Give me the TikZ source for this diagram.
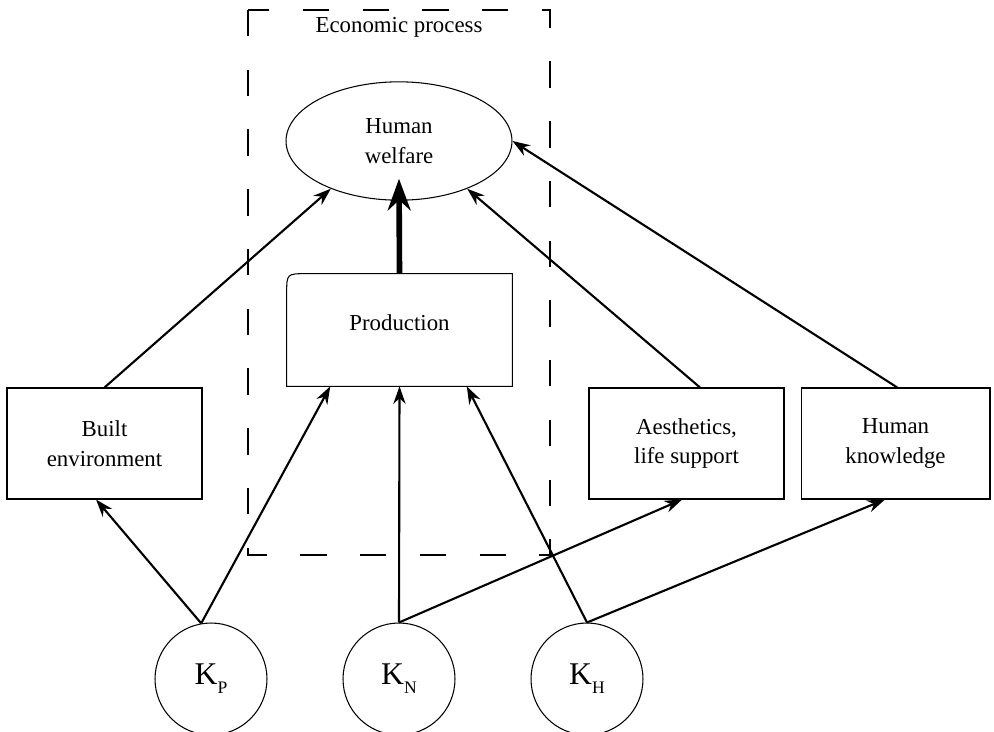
\documentclass[tikz,border=0pt]{standalone}
\usepackage{fontspec}
\setmainfont{Liberation Serif}
\usetikzlibrary{arrows.meta,shapes.geometric}
\begin{document}
\begin{tikzpicture}[x=0.02cm, y=-0.02cm, >={Stealth[length=10pt,width=7pt]},
  txt/.style={font=\fontsize{13}{17}\selectfont, align=center},
  box/.style={txt, draw, line width=0.6pt, minimum width=3.9cm, minimum height=2.22cm},
  stock/.style={draw, circle, line width=0.6pt, minimum size=2.24cm, inner sep=0pt, font=\fontsize{18}{20}\selectfont},
  link/.style={->, line width=1.2pt}]
\useasboundingbox (0,0) rectangle (994,731);
% economic process frame
\draw[line width=0.6pt, dash pattern=on 15pt off 19pt] (248,10) rectangle (550,555);
\node[txt] (econ) at (399,27) {Economic process};
% nodes
\node[txt, draw, ellipse, line width=0.6pt, minimum width=4.52cm, minimum height=2.24cm, inner xsep=0pt, inner ysep=11pt] (welfare) at (399,141) {Human\\welfare};
\node[txt, minimum width=4.5cm, minimum height=2.24cm, inner sep=0pt] (prod) at (399.5,330) {\raisebox{9pt}{Production}};
\draw[line width=0.6pt] (prod.south west) -- ([shift={(0,20)}]prod.north west) .. controls (prod.north west) .. ([shift={(20,0)}]prod.north west) -- (prod.north east) -- (prod.south east) -- cycle;
\node[box] (built) at (104.5,443.5) {Built\\environment};
\node[box] (aesth) at (686.5,443.5) {Aesthetics,\\life support};
\node[box, minimum width=3.78cm] (know) at (895.5,443.5) {Human\\knowledge};
\node[stock] (kp) at (211,679) {K\raisebox{-5pt}{\fontsize{10}{10}\selectfont P}};
\node[stock] (kn) at (399,679) {K\raisebox{-5pt}{\fontsize{10}{10}\selectfont N}};
\node[stock] (kh) at (587,679) {K\raisebox{-5pt}{\fontsize{10}{10}\selectfont H}};
% arrows
\draw[link] (kp.100) -- ([xshift=-4.8pt]built.south);
\draw[link] (kp.100) -- ([xshift=-39.4pt]prod.south);
\draw[link] (kn.north) -- (prod.south);
\draw[link] (kn.north) -- ([xshift=-2.5pt]aesth.south);
\draw[link] (kh.north) -- ([xshift=38.3pt]prod.south);
\draw[link] (kh.north) -- ([xshift=-6pt]know.south);
\draw[link] (built.north) -- (welfare.215);
\draw[link] ([xshift=7.7pt]aesth.north) -- (welfare.-35);
\draw[link] ([xshift=1pt]know.north) -- (welfare.east);
\draw[-{Stealth[length=18pt,width=13pt]}, line width=3.2pt] (prod.north) -- ([shift={(0,-22)}]welfare.south);
\end{tikzpicture}
\end{document}
